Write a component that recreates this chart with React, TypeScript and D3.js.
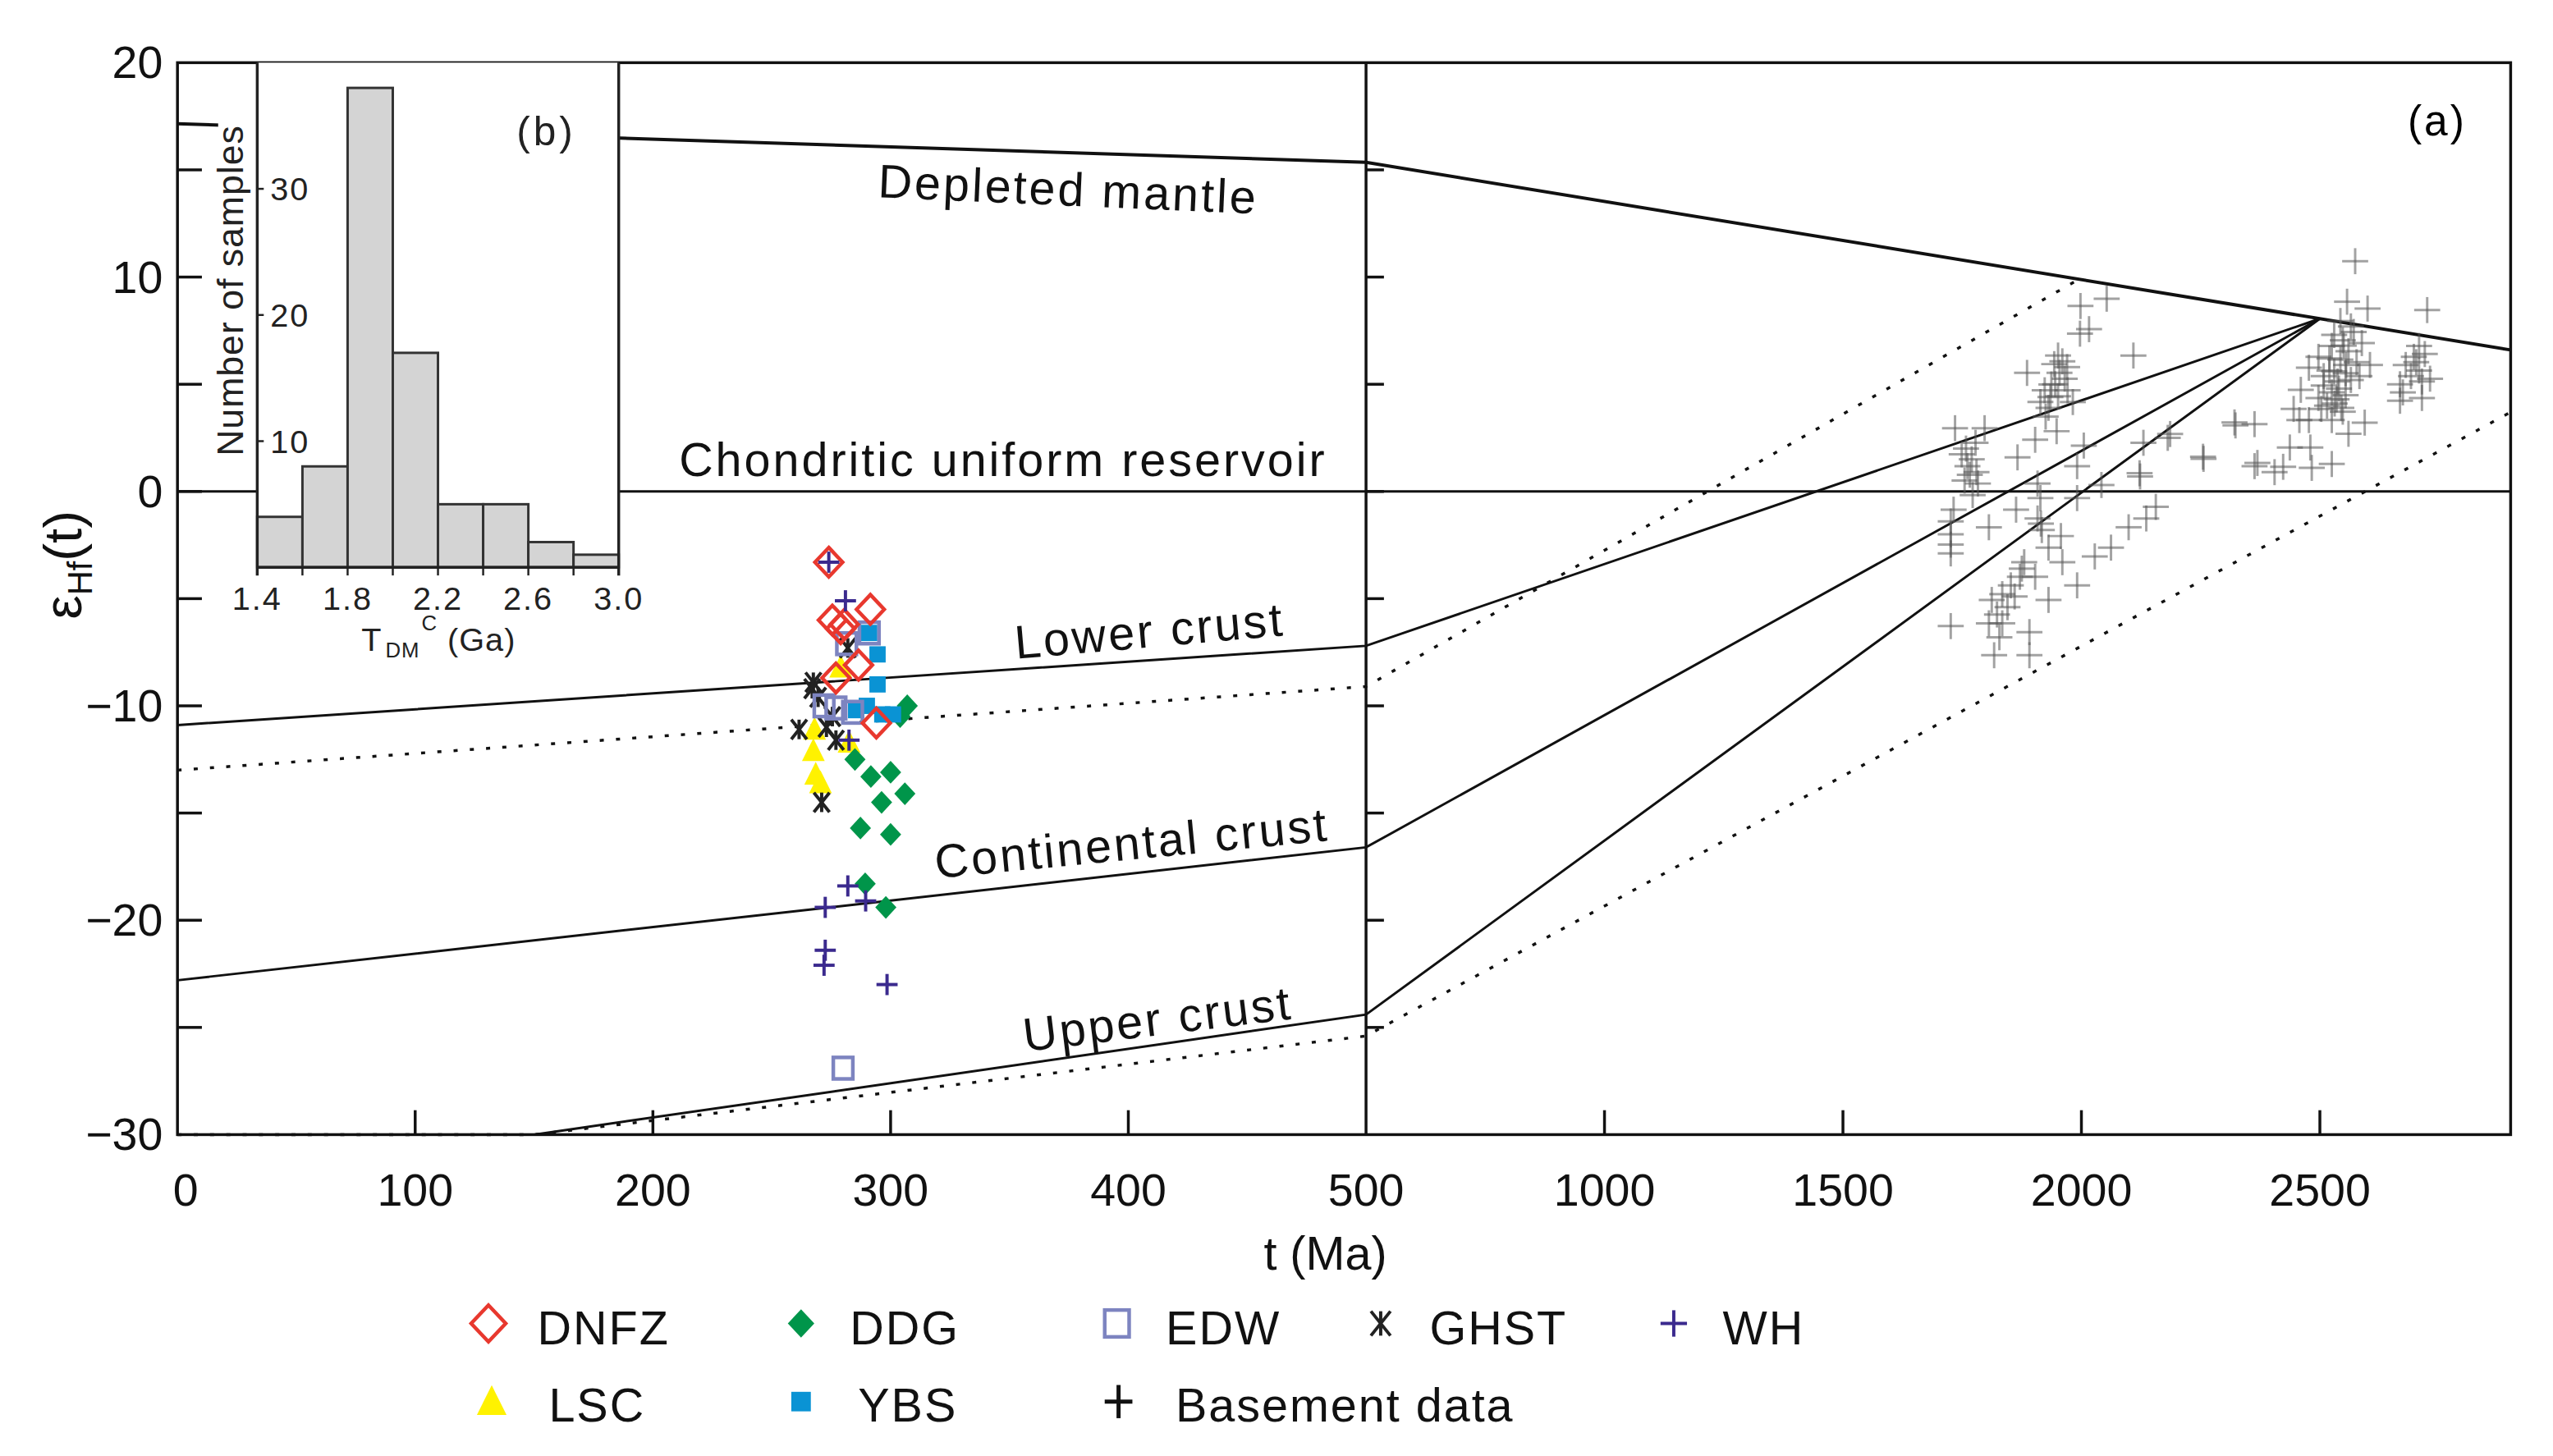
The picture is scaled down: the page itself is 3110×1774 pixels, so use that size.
import React from 'react';
import * as d3 from 'd3';

type Pt = [number, number];

// ---- data ----
const dmLine: Pt[] = [[0, 17.15], [500, 15.35], [2900, 6.6]];
const churLine: Pt[] = [[0, 0], [2900, 0]];
const lowerCrust: Pt[] = [[0, -10.9], [500, -7.2], [2500, 8.06]];
const contCrust: Pt[] = [[0, -22.8], [500, -16.6], [2500, 8.06]];
const upperCrust: Pt[] = [[150, -30], [500, -24.4], [2500, 8.06]];
const upperBound: Pt[] = [[0, -13.0], [500, -9.1], [1995, 9.9]];
const lowerBound: Pt[] = [[0, -30], [150, -30], [500, -25.4], [2900, 3.7]];

const dnfz: Pt[] = [[274, -3.3], [291.5, -5.5], [275.5, -6.0], [280.5, -6.2], [279, -6.4], [286.5, -8.1], [277, -8.7], [294, -10.8]];
const ddg: Pt[] = [[307, -10.0], [304, -10.5], [285, -12.5], [291.7, -13.3], [300, -13.1], [306, -14.1], [296.2, -14.5], [287.3, -15.7], [300, -16.0], [289.3, -18.3], [298, -19.4]];
const edw: Pt[] = [[291, -6.6], [281.5, -7.1], [272, -10.0], [277, -10.1], [284, -10.3], [280, -26.9]];
const ghst: Pt[] = [[267.5, -8.9], [267, -9.2], [269.5, -9.6], [261.5, -11.1], [273, -11.0], [277, -11.6], [282, -7.3], [275.5, -10.5], [271, -14.5]];
const wh: Pt[] = [[274, -3.3], [281, -5.1], [282.5, -11.6], [282, -18.4], [289.5, -19.1], [272.5, -19.4], [272.5, -21.4], [272, -22.1], [298.5, -23.0]];
const lsc: Pt[] = [[279, -8.2], [268, -11.1], [267.5, -12.1], [268.5, -13.2], [282.5, -11.7], [270.5, -13.6]];
const ybs: Pt[] = [[291, -6.6], [294.5, -7.6], [294.5, -9.0], [290, -10.0], [296.5, -10.4], [301, -10.4], [285.5, -10.2]];

const basement: Pt[] = [
  [1998, 8.65], [2053, 8.99], [2016, 7.57], [1997, 7.36], [2109, 6.34], [2321, 3.22], [2186, 2.68], [2255, 1.62], [2122, 0.85], [2363, 1.18], [2130, 2.27], [2042, 0.3],
  [1886, 5.53], [1943, 5.94], [1954, 5.53], [1965, 5.26], [1937, 4.99], [1923, 4.72], [1971, 4.72], [1951, 4.44], [1914, 4.17], [1982, 4.17], [1931, 3.9], [1960, 6.07], [1925, 3.49], [1951, 6.34], [1945, 5.0], [1970, 5.8], [1935, 4.4],
  [1903, 2.41], [1948, 2.81], [1866, 1.59], [2005, 2.14], [1991, 1.18],
  [1735, 2.95], [1797, 2.95], [1778, 2.27], [1749, 1.73], [1761, 1.18], [1766, 0.78], [1755, 0.51], [1783, 0.37], [1772, -0.17], [1732, -0.85], [1726, -1.4], [1726, -2.0], [1726, -2.48], [1726, -2.89], [1726, -6.28], [1806, -1.67], [1770, 1.5], [1758, 2.0], [1780, 0.9],
  [1908, 0.37], [1914, -0.31], [1863, -0.85], [1908, -1.26], [1917, -1.8], [1957, -2.08], [1931, -2.62], [1880, -3.3], [1871, -3.98], [1852, -4.38], [1834, -4.79], [1903, -3.98], [1812, -5.06], [1823, -5.74], [1834, -6.15], [1806, -6.15], [1891, -6.56], [1817, -7.64], [1891, -7.64], [1931, -5.06], [1991, -4.38], [1960, -3.3], [1845, -5.4], [1860, -4.9], [1828, -6.8], [1875, -3.6], [1915, -1.5],
  [2028, -3.03], [2062, -2.62], [2099, -1.67], [2136, -1.26], [2156, -0.72], [1991, -0.31],
  [2323, 3.08], [2256, 1.52], [2369, 1.33], [2483, 1.1], [2181, 2.5], [2123, 0.7],
  [2574, 10.74], [2557, 8.85], [2600, 8.53], [2725, 8.46], [2543, 7.95], [2571, 7.44], [2548, 7.05], [2588, 6.92], [2525, 6.79], [2560, 6.54], [2497, 6.28], [2543, 6.15], [2577, 6.03], [2605, 5.9], [2477, 5.77], [2520, 5.64], [2554, 5.51], [2583, 5.38], [2537, 5.13], [2508, 4.94], [2525, 4.62], [2554, 4.49], [2497, 4.36], [2460, 4.74], [2531, 4.1], [2503, 3.85], [2548, 3.72], [2445, 3.85], [2477, 3.33], [2525, 3.33], [2594, 3.21], [2560, 2.69], [2457, 3.33], [2437, 2.05], [2480, 2.05], [2423, 1.15], [2405, 0.9], [2525, 1.28], [2363, 3.14], [2508, 5.38], [2565, 5.2], [2535, 4.3], [2515, 4.0], [2550, 6.8], [2530, 7.3], [2565, 7.7], [2540, 4.8], [2555, 5.9], [2520, 6.2], [2545, 3.9], [2530, 5.6],
  [2708, 6.79], [2697, 6.28], [2720, 6.41], [2680, 5.9], [2708, 5.64], [2691, 5.38], [2668, 5.0], [2714, 5.13], [2674, 4.62], [2714, 4.36], [2731, 5.26], [2668, 4.23], [2702, 6.03],
];

const histStarts = [1.4, 1.6, 1.8, 2.0, 2.2, 2.4, 2.6, 2.8];
const histCounts = [4, 8, 38, 17, 5, 5, 2, 1];
const histXLabels = [1.4, 1.8, 2.2, 2.6, 3.0];
const histYLabels = [10, 20, 30];

const xLabelsLeft = [0, 100, 200, 300, 400, 500];
const xLabelsRight = [1000, 1500, 2000, 2500];
const yLabels = [20, 10, 0, -10, -20, -30];

// ---- layout ----
const W = 3110;
const H = 1774;
const ZOOM = 0.9917;
const FONT = "'Liberation Sans', Arial, sans-serif";
const x = d3.scaleLinear().domain([0, 500, 2900]).range([218, 1678, 3084]);
const y = d3.scaleLinear().domain([-30, 20]).range([1394, 77]);
const hx = d3.scaleLinear().domain([1.4, 3.0]).range([316, 760]);
const hy = d3.scaleLinear().domain([0, 40]).range([697, 77]);

const line = d3.line<Pt>().x((d) => x(d[0])).y((d) => y(d[1]));

const RED = '#e8382e';
const GREEN = '#00954a';
const LAV = '#7d84c0';
const PURPLE = '#3b2a8e';
const YELLOW = '#fff200';
const BLUE = '#0a93d4';

type Kind = 'dnfz' | 'ddg' | 'edw' | 'ghst' | 'wh' | 'lsc' | 'ybs' | 'base' | 'baseLegend';

function Marker({ kind, cx, cy, s = 1 }: { kind: Kind; cx: number; cy: number; s?: number }) {
  switch (kind) {
    case 'dnfz': {
      const a = 17 * s, b = 18 * s;
      return <path d={`M${cx},${cy - b}L${cx + a},${cy}L${cx},${cy + b}L${cx - a},${cy}Z`} fill="none" stroke={RED} strokeWidth={4.5} />;
    }
    case 'ddg': {
      const a = 13 * s, b = 14 * s;
      return <path d={`M${cx},${cy - b}L${cx + a},${cy}L${cx},${cy + b}L${cx - a},${cy}Z`} fill={GREEN} />;
    }
    case 'edw': {
      const a = 12 * s;
      return <rect x={cx - a} y={cy - a * 1.1} width={2 * a} height={2.2 * a} fill="none" stroke={LAV} strokeWidth={4.5} />;
    }
    case 'ybs': {
      const a = 10 * s;
      return <rect x={cx - a} y={cy - a} width={2 * a} height={2 * a} fill={BLUE} />;
    }
    case 'ghst': {
      const a = 12 * s;
      return (
        <g stroke="#222" strokeWidth={4}>
          <line x1={cx - a * 0.8} y1={cy - a} x2={cx + a * 0.8} y2={cy + a} />
          <line x1={cx - a * 0.8} y1={cy + a} x2={cx + a * 0.8} y2={cy - a} />
          <line x1={cx} y1={cy - a} x2={cx} y2={cy + a} />
        </g>
      );
    }
    case 'wh': {
      const a = 13 * s;
      return (
        <g stroke={PURPLE} strokeWidth={4}>
          <line x1={cx - a} y1={cy} x2={cx + a} y2={cy} />
          <line x1={cx} y1={cy - a} x2={cx} y2={cy + a} />
        </g>
      );
    }
    case 'lsc': {
      const a = 14 * s;
      return <path d={`M${cx},${cy - a * 1.1}L${cx + a},${cy + a * 0.9}L${cx - a},${cy + a * 0.9}Z`} fill={YELLOW} />;
    }
    case 'base': {
      const a = 16;
      return (
        <g stroke="#555" strokeOpacity={0.55} strokeWidth={3}>
          <line x1={cx - a} y1={cy} x2={cx + a} y2={cy} />
          <line x1={cx} y1={cy - a} x2={cx} y2={cy + a} />
        </g>
      );
    }
    case 'baseLegend': {
      const a = 17;
      return (
        <g stroke="#111" strokeWidth={5}>
          <line x1={cx - a} y1={cy} x2={cx + a} y2={cy} />
          <line x1={cx} y1={cy - a * 1.2} x2={cx} y2={cy + a * 1.2} />
        </g>
      );
    }
  }
  return null;
}

const legendRow1: [Kind, string, number][] = [
  ['dnfz', 'DNFZ', 600], ['ddg', 'DDG', 984], ['edw', 'EDW', 1372], ['ghst', 'GHST', 1696], ['wh', 'WH', 2056],
];
const legendRow2: [Kind, string, number][] = [
  ['lsc', 'LSC', 604], ['ybs', 'YBS', 984], ['baseLegend', 'Basement data', 1374],
];

const samples: [Kind, Pt[]][] = [
  ['lsc', lsc], ['ghst', ghst], ['ddg', ddg], ['ybs', ybs], ['edw', edw], ['dnfz', dnfz], ['wh', wh],
];

function CurveLabel({ t, v, angle, text }: { t: number; v: number; angle: number; text: string }) {
  return (
    <text
      x={x(t)} y={y(v)}
      transform={`rotate(${angle},${x(t)},${y(v)})`}
      textAnchor="middle" dominantBaseline="central"
      fontSize={58} letterSpacing={3} fill="#111"
    >
      {text}
    </text>
  );
}

export default function App() {
  const yTicks = d3.range(-25, 20, 5);
  const left = x(0), right = x(2900), top = y(20), bottom = y(-30), mid = x(500);

  return (
    <svg width={W} height={H} style={{ position: 'absolute', left: 0, top: 0, background: '#fff' }} fontFamily={FONT}>
      <rect width={W} height={H} fill="#fff" />
      <g transform={`scale(${ZOOM})`}>
        {/* reference curves */}
        <g fill="none" stroke="#111">
          <path d={line(dmLine) ?? ''} strokeWidth={4} />
          <path d={line(churLine) ?? ''} strokeWidth={3} />
          <path d={line(lowerCrust) ?? ''} strokeWidth={3} />
          <path d={line(contCrust) ?? ''} strokeWidth={3} />
          <path d={line(upperCrust) ?? ''} strokeWidth={3} />
          <path d={line(upperBound) ?? ''} strokeWidth={3.5} strokeDasharray="5 15" />
          <path d={line(lowerBound) ?? ''} strokeWidth={3.5} strokeDasharray="5 15" />
        </g>

        {/* basement data */}
        {basement.map((d, i) => (
          <Marker key={`b${i}`} kind="base" cx={x(d[0])} cy={y(d[1])} />
        ))}

        {/* frame */}
        <g stroke="#111" strokeWidth={3.5} fill="none">
          <rect x={left} y={top} width={right - left} height={bottom - top} />
          <line x1={mid} y1={top} x2={mid} y2={bottom} />
        </g>
        <g stroke="#111" strokeWidth={3.5}>
          {yTicks.map((v) => (
            <g key={`yt${v}`}>
              <line x1={left} x2={left + 30} y1={y(v)} y2={y(v)} />
              <line x1={mid} x2={mid + 22} y1={y(v)} y2={y(v)} />
            </g>
          ))}
          {[100, 200, 300, 400, 1000, 1500, 2000, 2500].map((t) => (
            <line key={`xt${t}`} x1={x(t)} x2={x(t)} y1={bottom} y2={bottom - 30} />
          ))}
        </g>

        {/* axis labels */}
        <g fontSize={56} fill="#111">
          {yLabels.map((v) => (
            <text key={`yl${v}`} x={left - 18} y={y(v)} textAnchor="end" dominantBaseline="central">
              {v < 0 ? `\u2212${-v}` : v}
            </text>
          ))}
          {[...xLabelsLeft, ...xLabelsRight].map((t) => (
            <text key={`xl${t}`} x={x(t) + (t === 0 ? 10 : 0)} y={bottom + 68} textAnchor="middle" dominantBaseline="central">
              {t}
            </text>
          ))}
          <text x={x(500) - 50} y={bottom + 146} textAnchor="middle" dominantBaseline="central" fontSize={58}>t (Ma)</text>
          <text transform={`translate(100,694) rotate(-90)`} textAnchor="middle" fontSize={66}>
            <tspan>ε</tspan>
            <tspan fontSize={42} dy={13}>Hf</tspan>
            <tspan dy={-13}>(t)</tspan>
          </text>
        </g>

        {/* curve labels */}
        <CurveLabel t={374.7} v={14.1} angle={2.5} text="Depleted mantle" />
        <CurveLabel t={347.3} v={1.5} angle={0} text="Chondritic uniform reservoir" />
        <CurveLabel t={408.9} v={-6.5} angle={-5} text="Lower crust" />
        <CurveLabel t={401.4} v={-16.4} angle={-5.5} text="Continental crust" />
        <CurveLabel t={412.3} v={-24.6} angle={-7} text="Upper crust" />
        <text x={x(2746)} y={y(17.3)} textAnchor="middle" dominantBaseline="central" fontSize={52} letterSpacing={3}>(a)</text>

        {/* inset histogram */}
        <rect x={268} y={120} width={hx(1.4) - 268} height={465} fill="#fff" />
        <rect x={hx(1.4)} y={top} width={hx(3.0) - hx(1.4)} height={hy(0) - top} fill="#fff" />
        {histStarts.map((s, i) => (
          <rect
            key={`h${s}`}
            x={hx(s)} y={hy(histCounts[i])}
            width={hx(s + 0.2) - hx(s)} height={hy(0) - hy(histCounts[i])}
            fill="#d4d4d4" stroke="#333" strokeWidth={3}
          />
        ))}
        <g stroke="#222" strokeWidth={3.5}>
          <line x1={hx(1.4)} x2={hx(1.4)} y1={top} y2={hy(0) + 10} />
          <line x1={hx(3.0)} x2={hx(3.0)} y1={top} y2={hy(0) + 10} />
          <line x1={hx(1.4)} x2={hx(3.0)} y1={hy(0)} y2={hy(0)} />
          {d3.range(1.6, 2.9, 0.2).map((t) => (
            <line key={`hxt${t}`} x1={hx(t)} x2={hx(t)} y1={hy(0)} y2={hy(0) + 10} strokeWidth={2.5} />
          ))}
          {histYLabels.map((c) => (
            <line key={`hyt${c}`} x1={hx(1.4)} x2={hx(1.4) + 8} y1={hy(c)} y2={hy(c)} strokeWidth={2.5} />
          ))}
        </g>
        <g fontSize={40} fill="#222" letterSpacing={2}>
          {histXLabels.map((t) => (
            <text key={`hxl${t}`} x={hx(t)} y={hy(0) + 38} textAnchor="middle" dominantBaseline="central">
              {t.toFixed(1)}
            </text>
          ))}
          {histYLabels.map((c) => (
            <text key={`hyl${c}`} x={hx(1.4) + 16} y={hy(c)} dominantBaseline="central">{c}</text>
          ))}
          <text x={444} y={800} letterSpacing={1}>
            <tspan>T</tspan>
            <tspan fontSize={26} dx={4} dy={8}>DM</tspan>
            <tspan fontSize={26} dx={2} dy={-34}>C</tspan>
            <tspan dx={12} dy={26}>(Ga)</tspan>
          </text>
          <text transform={`translate(298,357) rotate(-90)`} textAnchor="middle" fontSize={45} letterSpacing={1}>
            Number of samples
          </text>
          <text x={671} y={161} textAnchor="middle" dominantBaseline="central" fontSize={50} letterSpacing={4}>(b)</text>
        </g>

        {/* sample points */}
        {samples.map(([kind, pts]) =>
          pts.map((d, i) => <Marker key={`${kind}${i}`} kind={kind} cx={x(d[0])} cy={y(d[1])} />)
        )}

        {/* legend */}
        <g fontSize={58} fill="#111" letterSpacing={2}>
          {legendRow1.map(([kind, label, mx]) => (
            <g key={label}>
              <Marker kind={kind} cx={mx} cy={1626} s={1.25} />
              <text x={mx + 60} y={1632} dominantBaseline="central">{label}</text>
            </g>
          ))}
          {legendRow2.map(([kind, label, mx]) => (
            <g key={label}>
              <Marker kind={kind} cx={mx} cy={1722} s={kind === 'ybs' ? 1.2 : 1.3} />
              <text x={mx + 70} y={1726} dominantBaseline="central">{label}</text>
            </g>
          ))}
        </g>
      </g>
    </svg>
  );
}
